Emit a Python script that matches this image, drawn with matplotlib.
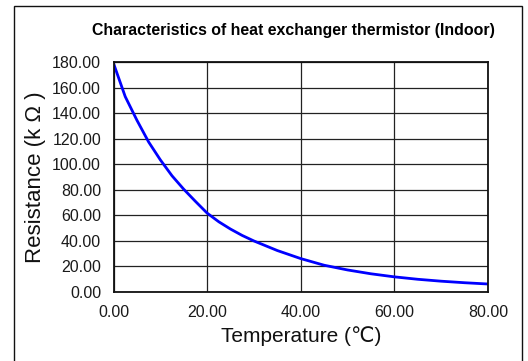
import numpy as np
import matplotlib.pyplot as plt
from matplotlib.patches import Rectangle

# values (resistance in kOhm at each temperature)
temperature = [0, 2.5, 5, 7.5, 10, 12.5, 15, 17.5, 20, 22.5, 25, 27.5, 30,
               35, 40, 45, 50, 55, 60, 65, 70, 75, 80]
resistance = [179.0, 153.0, 134.5, 117.5, 103.5, 91.0, 80.5, 71.0, 61.8, 55.0,
              49.3, 44.3, 40.0, 32.5, 26.2, 21.0, 17.3, 14.3, 11.9, 10.0,
              8.5, 7.3, 6.3]

x_ticks = [0, 20, 40, 60, 80]
y_ticks = [0, 20, 40, 60, 80, 100, 120, 140, 160, 180]

plt.rcParams['font.family'] = ['Liberation Sans', 'DejaVu Sans']

fig = plt.figure(figsize=(5.28, 3.61), dpi=100)
ax = fig.add_axes([0.215, 0.191, 0.709, 0.637])

ax.plot(temperature, resistance, color='#0000ff', lw=2.0, solid_capstyle='butt')

ax.set_xlim(0, 80)
ax.set_ylim(0, 180)
ax.set_xticks(x_ticks)
ax.set_yticks(y_ticks)
ax.set_xticklabels(['%.2f' % v for v in x_ticks])
ax.set_yticklabels(['%.2f' % v for v in y_ticks])
ax.tick_params(length=0, labelsize=11.5, pad=9, colors='#1a1a1a')
ax.grid(True, color='#222222', lw=0.9)
ax.set_axisbelow(True)
for s in ax.spines.values():
    s.set_color('#111111')
    s.set_linewidth(1.3)

ax.set_xlabel('Temperature (℃)', fontsize=15, labelpad=5, color='#111111')
ax.set_ylabel('Resistance (k Ω )', fontsize=16, labelpad=4, color='#111111')

fig.text(0.555, 0.915, 'Characteristics of heat exchanger thermistor (Indoor)',
         ha='center', va='center', fontsize=11.4, fontweight='bold',
         family=['Liberation Sans Narrow', 'Liberation Sans', 'DejaVu Sans'])

# outer chart border
fig.patches.append(Rectangle((13.5 / 528, -0.01), 508 / 528, 1 - 5.5 / 361 + 0.01,
                             transform=fig.transFigure, fill=False,
                             ec='#111111', lw=1.0))

fig.savefig('out.png', dpi=100)
